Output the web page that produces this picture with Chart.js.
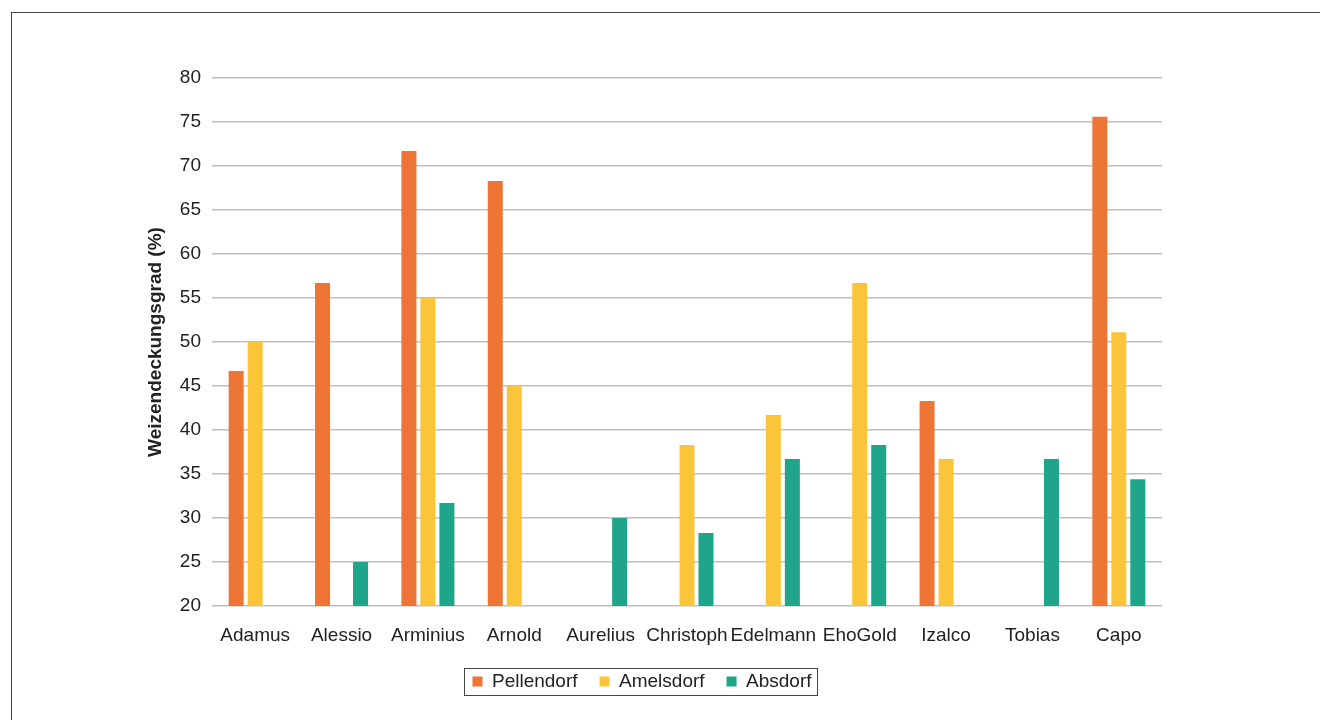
<!DOCTYPE html>
<html>
<head>
<meta charset="utf-8">
<script src="https://cdn.jsdelivr.net/npm/chart.js@4"></script>
<style>
  body { margin: 0; background: #fff; overflow: hidden; }
  #frame { position: absolute; left: 11px; top: 12px; width: 1400px; height: 800px; border: 1px solid #444; }
  #wrap { position: absolute; left: 0; top: 0; width: 1320px; height: 720px; }
</style>
</head>
<body>
<div id="frame"></div>
<div id="wrap"><canvas id="myChart" width="1320" height="720"></canvas></div>
<script>
const sorten = ["Adamus", "Alessio", "Arminius", "Arnold", "Aurelius", "Christoph", "Edelmann", "EhoGold", "Izalco", "Tobias", "Capo"];
const pellendorf = [46.7, 56.7, 71.7, 68.3, null, null, null, null, 43.3, null, 75.6];
const amelsdorf = [50, null, 55, 45, null, 38.3, 41.7, 56.7, 36.7, null, 51.1];
const absdorf = [null, 25, 31.7, null, 30, 28.3, 36.7, 38.3, null, 36.7, 34.4];
const yTicks = [20, 25, 30, 35, 40, 45, 50, 55, 60, 65, 70, 75, 80];

Chart.defaults.font.family = "'Liberation Sans', Arial, sans-serif";
Chart.defaults.font.size = 19;
Chart.defaults.color = "#222";

// rahmen um die legende
const legendBox = {
  id: "legendBox",
  afterDraw(chart) {
    const boxes = chart.legend.legendHitBoxes;
    if (!boxes || !boxes.length) return;
    const x0 = boxes[0].left - 8;
    const last = boxes[boxes.length - 1];
    const x1 = last.left + last.width + 6;
    const y0 = boxes[0].top - 4;
    const y1 = boxes[0].top + boxes[0].height + 4;
    const c = chart.ctx;
    c.save();
    c.strokeStyle = "#444";
    c.lineWidth = 1;
    c.strokeRect(Math.round(x0) + 0.5, Math.round(y0) + 0.5, Math.round(x1 - x0), Math.round(y1 - y0));
    c.restore();
  }
};

const ctx = document.getElementById("myChart");
const myChart = new Chart(ctx, {
  type: "bar",
  data: {
    labels: sorten,
    datasets: [
      { label: "Pellendorf", data: pellendorf, backgroundColor: "#ED7536" },
      { label: "Amelsdorf", data: amelsdorf, backgroundColor: "#FAC539" },
      { label: "Absdorf", data: absdorf, backgroundColor: "#1FA589" },
    ],
  },
  options: {
    responsive: false,
    animation: false,
    categoryPercentage: 0.66,
    barPercentage: 0.79,
    layout: { padding: { left: 122, right: 158, top: 78, bottom: 19 } },
    plugins: {
      legend: {
        position: "bottom",
        labels: { boxWidth: 10, boxHeight: 10, padding: 22, color: "#222" },
      },
      tooltip: { enabled: false },
    },
    scales: {
      x: {
        grid: { display: false },
        border: { display: false },
        ticks: { padding: 10, maxRotation: 0, autoSkip: false },
        afterFit: (s) => { s.height = 44; },
      },
      y: {
        min: 20,
        max: 80,
        afterBuildTicks: (s) => { s.ticks = yTicks.map((v) => ({ value: v })); },
        grid: { color: "#c0c0c0", lineWidth: 1.5, drawTicks: false },
        border: { display: false },
        ticks: { padding: 11 },
        title: { display: true, text: "Weizendeckungsgrad (%)", font: { weight: "bold", size: 19 }, padding: { top: 22, bottom: 0 } },
        afterFit: (s) => { s.width = 90; },
      },
    },
  },
  plugins: [legendBox],
});
</script>
</body>
</html>
